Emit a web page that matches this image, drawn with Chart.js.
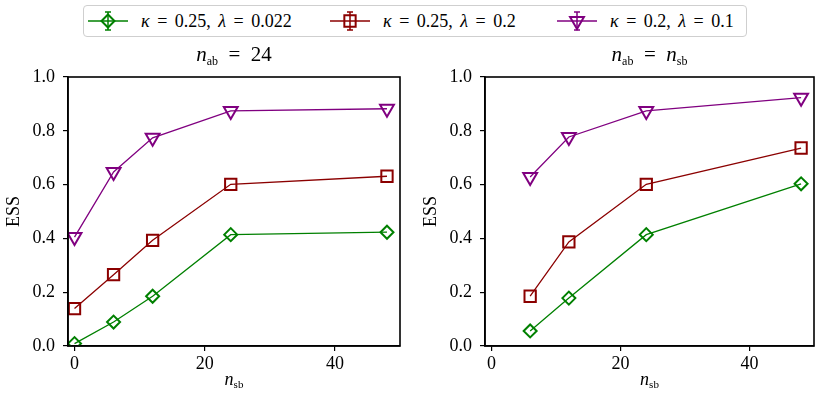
<!DOCTYPE html>
<html>
<head>
<meta charset="utf-8">
<script src="https://cdn.jsdelivr.net/npm/chart.js@4.4.1/dist/chart.umd.min.js"></script>
<style>
  body { margin: 0; background: #fff; width: 824px; height: 400px; position: relative; overflow: hidden; font-family: "Liberation Serif", serif; }
  #legend { position: absolute; left: 83px; top: 5px; width: 662px; height: 30px; border: 1px solid #cfcfcf; border-radius: 4px; font-size: 18px; word-spacing: 3px; }
  .item { position: absolute; top: 0; height: 30px; display: flex; align-items: center; white-space: nowrap; }
  .item canvas { margin-right: 13px; }
  #c1 { position: absolute; left: 0; top: 40px; }
  #c2 { position: absolute; left: 412px; top: 40px; }
</style>
</head>
<body>
<div id="legend"></div>
<canvas id="c1" width="412" height="360"></canvas>
<canvas id="c2" width="412" height="360"></canvas>
<script>
// data
const nsbFixed = [0, 6, 12, 24, 48];
const nsbEqual = [6, 12, 24, 48];

const essFixedA = [0.009, 0.089, 0.185, 0.414, 0.423];   // kappa 0.25, lambda 0.022
const essFixedB = [0.139, 0.265, 0.393, 0.601, 0.631];   // kappa 0.25, lambda 0.2
const essFixedC = [0.405, 0.647, 0.774, 0.874, 0.882];   // kappa 0.2, lambda 0.1

const essEqualA = [0.056, 0.178, 0.414, 0.603];
const essEqualB = [0.185, 0.387, 0.601, 0.736];
const essEqualC = [0.628, 0.777, 0.874, 0.923];

const xTicks = [0, 20, 40];
const yTicks = [0.0, 0.2, 0.4, 0.6, 0.8, 1.0];

const series = [
  { kappa: '0.25', lambda: '0.022', color: '#008000', style: 'rectRot', radius: 6.5, rotation: 0 },
  { kappa: '0.25', lambda: '0.2',   color: '#8b0000', style: 'rect',    radius: 8,   rotation: 0 },
  { kappa: '0.2',  lambda: '0.1',   color: '#800080', style: 'triangle', radius: 8,  rotation: 180 }
];

const FONT = '"Liberation Serif", serif';

// legend (shared by both panels)
const legendLeft = [4, 246, 473];
const legend = document.getElementById('legend');
series.forEach((s, i) => {
  const item = document.createElement('div');
  item.className = 'item';
  item.style.left = legendLeft[i] + 'px';
  const icon = document.createElement('canvas');
  icon.width = 40; icon.height = 30;
  const g = icon.getContext('2d');
  g.strokeStyle = s.color;
  g.fillStyle = 'rgba(0,0,0,0)';
  g.lineWidth = 1.5;
  g.beginPath(); g.moveTo(0, 15); g.lineTo(40, 15); g.stroke();
  g.beginPath(); g.moveTo(20, 6); g.lineTo(20, 24);
  g.moveTo(17, 6); g.lineTo(23, 6); g.moveTo(17, 24); g.lineTo(23, 24); g.stroke();
  g.lineWidth = 2;
  Chart.helpers.drawPoint(g, { pointStyle: s.style, radius: s.radius, rotation: s.rotation, borderWidth: 2 }, 20, 15);
  item.appendChild(icon);
  const txt = document.createElement('span');
  txt.innerHTML = '<i>κ</i> = ' + s.kappa + ', <i>λ</i> = ' + s.lambda;
  item.appendChild(txt);
  legend.appendChild(item);
});

// draws a string made of pieces (italic / subscript)
function drawRich(ctx, parts, cx, cy) {
  let total = 0;
  parts.forEach(p => {
    ctx.font = (p.italic ? 'italic ' : '') + p.size + 'px ' + FONT;
    p.w = ctx.measureText(p.t).width;
    total += p.w;
  });
  let x = cx - total / 2;
  ctx.textBaseline = 'alphabetic';
  ctx.textAlign = 'left';
  ctx.fillStyle = '#000';
  parts.forEach(p => {
    ctx.font = (p.italic ? 'italic ' : '') + p.size + 'px ' + FONT;
    ctx.fillText(p.t, x, cy + (p.dy || 0));
    x += p.w;
  });
}

const framePlugin = {
  id: 'frame',
  afterDraw(chart, args, opts) {
    const { ctx, chartArea: a } = chart;
    ctx.save();
    ctx.strokeStyle = '#000';
    ctx.lineWidth = 1.6;
    ctx.strokeRect(a.left, a.top, a.right - a.left, a.bottom - a.top);
    const cx = (a.left + a.right) / 2;
    drawRich(ctx, opts.title, cx, a.top - 16);
    drawRich(ctx, opts.xlabel, cx, a.bottom + 39);
    ctx.restore();
  }
};

function makePanel(id, xs, ys, title, padRight, yWidth, yTitlePad) {
  const datasets = series.map((s, i) => ({
    data: xs.map((x, j) => ({ x: x, y: ys[i][j] })),
    borderColor: s.color,
    borderWidth: 1.3,
    pointStyle: s.style,
    pointRadius: s.radius,
    pointHoverRadius: s.radius,
    pointRotation: s.rotation,
    pointBorderWidth: 2,
    pointBorderColor: s.color,
    pointBackgroundColor: 'rgba(0,0,0,0)',
    tension: 0
  }));
  const tickFont = { family: FONT, size: 18 };
  return new Chart(document.getElementById(id), {
    type: 'line',
    data: { datasets: datasets },
    plugins: [framePlugin],
    options: {
      responsive: false,
      animation: false,
      layout: { padding: { top: 37, right: padRight, bottom: 0, left: 0 } },
      plugins: {
        legend: { display: false },
        tooltip: { enabled: false },
        frame: {
          title: title,
          xlabel: [{ t: 'n', italic: true, size: 18 }, { t: 'sb', size: 11, dy: 3 }]
        }
      },
      scales: {
        x: {
          type: 'linear', min: -1, max: 50,
          afterBuildTicks: s => { s.ticks = xTicks.map(v => ({ value: v })); },
          afterFit: s => { s.height = 54; },
          ticks: { font: tickFont, color: '#000', padding: 2, maxRotation: 0, callback: v => String(v) },
          grid: { drawOnChartArea: false, tickLength: 5, color: '#000', lineWidth: 1.2 },
          border: { color: '#000', width: 1.6 }
        },
        y: {
          type: 'linear', min: 0, max: 1,
          afterBuildTicks: s => { s.ticks = yTicks.map(v => ({ value: v })); },
          afterFit: s => { s.width = yWidth; },
          ticks: { font: tickFont, color: '#000', padding: 8, callback: v => v.toFixed(1) },
          grid: { drawOnChartArea: false, tickLength: 5, color: '#000', lineWidth: 1.2 },
          border: { color: '#000', width: 1.6 },
          title: { display: true, text: 'ESS', font: { family: FONT, size: 18 }, color: '#000', padding: { top: yTitlePad, bottom: 0 } }
        }
      }
    }
  });
}

const EQ = '\u2002=\u2002';
makePanel('c1', nsbFixed, [essFixedA, essFixedB, essFixedC],
  [{ t: 'n', italic: true, size: 21 }, { t: 'ab', size: 12, dy: 4 }, { t: EQ + '24', size: 21 }],
  12, 68, 3);

makePanel('c2', nsbEqual, [essEqualA, essEqualB, essEqualC],
  [{ t: 'n', italic: true, size: 21 }, { t: 'ab', size: 12, dy: 4 }, { t: EQ, size: 21 },
   { t: 'n', italic: true, size: 21 }, { t: 'sb', size: 12, dy: 4 }],
  7, 73, 8);
</script>
</body>
</html>
